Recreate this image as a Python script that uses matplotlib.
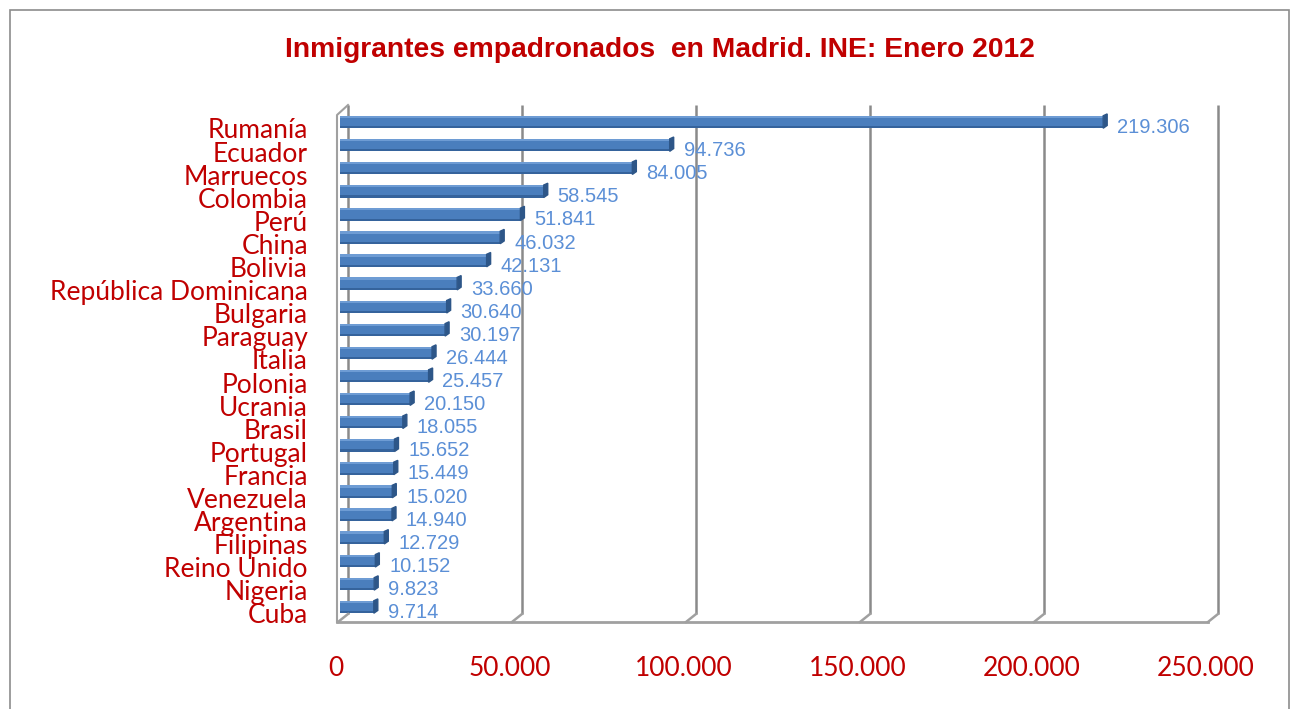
import matplotlib.pyplot as plt
from matplotlib.patches import Rectangle, Polygon
from matplotlib.lines import Line2D
from matplotlib.transforms import ScaledTranslation, blended_transform_factory

countries = ["Rumanía", "Ecuador", "Marruecos", "Colombia", "Perú", "China", "Bolivia",
             "República Dominicana", "Bulgaria", "Paraguay", "Italia", "Polonia", "Ucrania",
             "Brasil", "Portugal", "Francia", "Venezuela", "Argentina", "Filipinas",
             "Reino Unido", "Nigeria", "Cuba"]
values = [219306, 94736, 84005, 58545, 51841, 46032, 42131, 33660, 30640, 30197, 26444,
          25457, 20150, 18055, 15652, 15449, 15020, 14940, 12729, 10152, 9823, 9714]
xticks = [0, 50000, 100000, 150000, 200000, 250000]
xtick_labels = ["0", "50.000", "100.000", "150.000", "200.000", "250.000"]

def fmt(v):
    return f"{v:,}".replace(",", ".")

W, H = 1297, 709
DPI = 100
fig = plt.figure(figsize=(W / DPI, H / DPI), dpi=DPI)
fig.patches.append(Rectangle((10 / W, -0.1), (1289 - 10) / W, (709 - 10) / H + 0.1,
                             transform=fig.transFigure, fill=False, edgecolor='#8c8c8c',
                             linewidth=1.2))

ax_top, ax_bot = 105, 622
ax_left, ax_right = 340, 1210
ax = fig.add_axes([ax_left / W, 1 - ax_bot / H, (ax_right - ax_left) / W, (ax_bot - ax_top) / H])
n = len(countries)
ypos = list(range(n))
ax.set_ylim(21.65, -0.736)
ax.set_xlim(0, 250000)
ax.axis('off')

# 3D-looking bars
bh = 0.54
ax.barh(ypos, values, height=bh, color='#4A7EBD', edgecolor='none', zorder=3)
ax.barh([y - bh / 2 + 0.05 for y in ypos], values, height=0.10, color='#6E9CD4',
        edgecolor='none', zorder=3.1)
ax.barh([y + bh / 2 - 0.045 for y in ypos], values, height=0.09, color='#35639C',
        edgecolor='none', zorder=3.1)
cap = 4 * 250000 / (ax_right - ax_left)
for y, v in zip(ypos, values):
    ax.add_patch(Polygon([(v, y - bh / 2), (v + cap, y - bh / 2 - 0.08),
                          (v + cap, y + bh / 2 - 0.12), (v, y + bh / 2)],
                         closed=True, color='#2D5688', zorder=3.2))

# pseudo-3D walls / grid
d = 8
blend = blended_transform_factory(ax.transData, ax.transAxes)
shift = ScaledTranslation(d / DPI, 0, fig.dpi_scale_trans)
fb = d / (ax_bot - ax_top)
gcol = '#8a8a8a'
for v in xticks:
    ax.plot([v, v], [1.0, fb], transform=blend + shift, color=gcol, lw=1.8, zorder=1,
            solid_capstyle='butt', clip_on=False)
inv = fig.transFigure.inverted()
yf = ax.transAxes.transform((0, 0))[1]
yb = ax.transAxes.transform((0, fb))[1]
yt = ax.transAxes.transform((0, 1))[1]
for v in xticks:
    x0 = ax.transData.transform((v, 0))[0]
    p1 = inv.transform((x0 + d, yb))
    p2 = inv.transform((x0 - 2, yf))
    fig.add_artist(Line2D([p1[0], p2[0]], [p1[1], p2[1]], color='#a0a0a0', lw=1.8))
xa = ax.transData.transform((0, 0))[0]
xb = ax.transData.transform((250000, 0))[0]
q1 = inv.transform((xa - 3, yf)); q2 = inv.transform((xb - 2, yf))
fig.add_artist(Line2D([q1[0], q2[0]], [q1[1], q2[1]], color='#a0a0a0', lw=2))
q3 = inv.transform((xa - 3, yf)); q4 = inv.transform((xa - 3, yt - 10))
q5 = inv.transform((xa + d, yt))
fig.add_artist(Line2D([q3[0], q4[0], q5[0]], [q3[1], q4[1], q5[1]], color='#a0a0a0', lw=1.5))

for y, v in zip(ypos, values):
    ax.annotate(fmt(v), (v, y), xytext=(10, -4), textcoords='offset points',
                ha='left', va='center', color='#5B8FD6', fontsize=14.5,
                family='Liberation Sans', zorder=4)

lab_bl = blended_transform_factory(fig.transFigure, ax.transData) + \
    ScaledTranslation(0, -9 / DPI, fig.dpi_scale_trans)
for y, c in zip(ypos, countries):
    fig.text(308 / W, y, c, transform=lab_bl, ha='right', va='center', color='#C00000',
             fontsize=19, family='Lato')

tick_tr = blended_transform_factory(ax.transData, fig.transFigure) + \
    ScaledTranslation(-4 / DPI, 0, fig.dpi_scale_trans)
for v, t in zip(xticks, xtick_labels):
    fig.text(v, 1 - 669 / H, t, transform=tick_tr, ha='center', va='center',
             color='#C00000', fontsize=19, family='Lato')

fig.text(660 / W, 1 - 50 / H, "Inmigrantes empadronados  en Madrid. INE: Enero 2012",
         ha='center', va='center', color='#C00000', fontsize=20.3, fontweight='bold',
         family='Liberation Sans')

fig.savefig('out.png', dpi=DPI)
